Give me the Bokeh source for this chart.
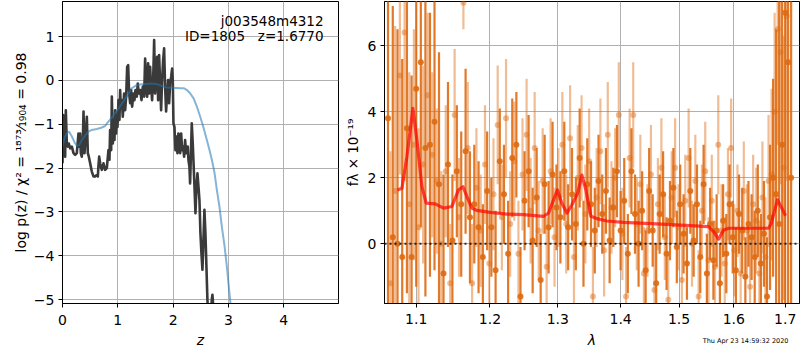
import numpy as np
from bokeh.plotting import figure
from bokeh.models import Range1d, FixedTicker, CustomJSTickFormatter, Label, Span, ColumnDataSource, Title
from bokeh.layouts import row
from bokeh.embed import file_html
from bokeh.resources import INLINE

FONT = "DejaVu Sans"

# ---------------- left panel: log p(z) ----------------
z_pz = [0.000, 0.012, 0.024, 0.036, 0.048, 0.060, 0.078, 0.096, 0.114, 0.139, 0.169, 0.199,
        0.229, 0.259, 0.289, 0.301, 0.319, 0.331, 0.349, 0.367, 0.380, 0.398, 0.422, 0.440,
        0.458, 0.476, 0.500, 0.530, 0.560, 0.590, 0.620, 0.639, 0.651, 0.663, 0.681, 0.699,
        0.711, 0.741, 0.771, 0.801, 0.831, 0.849, 0.861, 0.880, 0.892, 0.910, 0.922, 0.940,
        0.952, 0.970, 0.982, 0.994, 1.012, 1.030, 1.042, 1.054, 1.072, 1.090, 1.114, 1.133,
        1.151, 1.169, 1.187, 1.205, 1.223, 1.241, 1.259, 1.283, 1.301, 1.319, 1.343, 1.361,
        1.380, 1.404, 1.428, 1.452, 1.476, 1.494, 1.512, 1.530, 1.548, 1.566, 1.584, 1.602,
        1.620, 1.639, 1.657, 1.675, 1.693, 1.711, 1.729, 1.747, 1.765, 1.783, 1.801, 1.819,
        1.837, 1.855, 1.873, 1.892, 1.910, 1.928, 1.946, 1.964, 1.982, 1.994, 2.006, 2.024,
        2.042, 2.060, 2.078, 2.096, 2.114, 2.127, 2.145, 2.163, 2.181, 2.199, 2.217, 2.235,
        2.253, 2.265, 2.277, 2.295, 2.307, 2.319, 2.337, 2.355, 2.367, 2.386, 2.404, 2.422,
        2.440, 2.458, 2.476, 2.494, 2.512, 2.530, 2.548, 2.566, 2.584, 2.602, 2.620, 2.639,
        2.669, 2.699, 2.711, 2.729, 2.759]
logp_pz = [-1.89, -0.79, -1.66, -0.90, -1.74, -0.68, -1.44, -1.51, -1.44, -1.55, -1.51, -1.66,
           -1.70, -1.66, -1.21, -1.51, -1.21, -1.66, -1.74, -1.44, -0.71, -1.66, -1.21, -0.83,
           -1.66, -1.74, -1.89, -2.08, -2.19, -2.19, -2.16, -2.19, -1.93, -1.74, -1.89, -2.00,
           -2.04, -1.89, -2.04, -2.00, -1.59, -1.81, -1.13, -1.59, -0.37, -1.44, -1.06, -1.36,
           -0.68, -1.21, -0.83, -1.06, -0.45, -0.90, -0.22, -0.60, -0.45, -0.83, -0.30, -0.68,
           -0.37, 0.31, 0.35, -0.30, -0.52, -0.22, -0.60, -0.30, -0.45, -0.22, -0.37, -0.07,
           -0.30, -0.22, -0.45, -0.14, -0.37, 0.50, -0.14, -0.37, 0.39, -0.30, 0.31, -0.14,
           -0.45, 0.01, 0.92, -0.30, 0.16, 0.54, -0.45, 0.58, -0.07, -0.68, 0.01, 0.46,
           0.73, -0.14, -0.71, -0.30, 0.01, -0.52, -0.07, 0.08, 0.27, 0.01, -0.98, -1.06,
           -1.59, -1.28, -1.66, -1.21, -1.51, -1.66, -1.21, -1.59, -1.51, -1.74, -1.36, -1.66,
           -1.59, -1.51, -1.81, -1.97, -2.35, -1.81, -0.98, -1.44, -1.81, -2.42, -3.03, -2.42,
           -2.12, -2.42, -2.73, -3.49, -3.94, -4.32, -3.64, -2.95, -3.49, -4.24, -5.00, -5.46,
           -5.61, -5.00, -4.89, -5.23, -5.69]

z_prior = [0.00, 0.04, 0.08, 0.12, 0.17, 0.22, 0.26, 0.30, 0.35, 0.41, 0.47, 0.53, 0.62,
           0.70, 0.77, 0.83, 0.89, 0.95, 1.02, 1.10, 1.18, 1.25, 1.34, 1.43, 1.52, 1.61,
           1.70, 1.80, 1.89, 2.00, 2.13, 2.20, 2.25, 2.31, 2.37, 2.43, 2.49, 2.55, 2.61,
           2.66, 2.70, 2.75, 2.79, 2.84, 2.88, 2.93, 2.97, 3.03, 3.08, 3.15]
logp_prior = [-1.51, -1.30, -1.20, -1.17, -1.28, -1.42, -1.49, -1.48, -1.36, -1.26, -1.17,
              -1.13, -1.11, -1.08, -1.04, -0.94, -0.85, -0.75, -0.63, -0.48, -0.33, -0.18,
              -0.11, -0.09, -0.08, -0.07, -0.08, -0.13, -0.16, -0.17, -0.18, -0.18, -0.22,
              -0.30, -0.41, -0.60, -0.83, -1.08, -1.36, -1.60, -1.81, -2.12, -2.49, -2.90,
              -3.33, -3.78, -4.23, -5.00, -5.60, -6.50]

left_xticks = [0, 1, 2, 3, 4]
left_yticks = [-5, -4, -3, -2, -1, 0, 1]
target_name = "j003548m4312"
target_info = "ID=1805\u00a0\u00a0\u00a0z=1.6770"

# ---------------- right panel: spectrum ----------------
wave_a = [1.064, 1.070, 1.076, 1.082, 1.088, 1.094, 1.100, 1.106, 1.112, 1.118, 1.124, 1.130,
          1.136, 1.142, 1.148, 1.154, 1.160, 1.166, 1.172, 1.178, 1.184, 1.190, 1.196, 1.202,
          1.208, 1.214, 1.220, 1.226, 1.232, 1.238, 1.244, 1.250, 1.256, 1.262, 1.268, 1.274,
          1.280, 1.286, 1.292, 1.298, 1.304, 1.310, 1.316, 1.322, 1.328, 1.334, 1.340, 1.346,
          1.352, 1.358, 1.364, 1.370, 1.376, 1.382, 1.388, 1.394, 1.400, 1.406, 1.412, 1.418,
          1.424, 1.430, 1.436, 1.442, 1.448, 1.454, 1.460, 1.466, 1.472, 1.478, 1.484, 1.490,
          1.496, 1.502, 1.508, 1.514, 1.520, 1.526, 1.532, 1.538, 1.544, 1.550, 1.556, 1.562,
          1.568, 1.574, 1.580, 1.586, 1.592, 1.598, 1.604, 1.610, 1.616, 1.622, 1.628, 1.634,
          1.640, 1.646, 1.652, 1.658, 1.664, 1.670, 1.676, 1.682, 1.688, 1.694, 1.700, 1.706,
          1.712]
flux_a = [3.8, 0.2, 0.0, -0.4, 3.5, -0.4, 4.7, 5.5, 2.9, 3.0, 3.7, 1.8,
          -0.9, 2.4, 0.1, 2.2, 1.2, 2.8, 0.8, 1.2, 0.5, -0.4, 1.6, 0.5,
          -0.8, 2.5, 1.5, -0.3, 2.6, 3.0, -1.6, 1.3, 2.2, 0.1, 1.4, -1.1,
          1.8, 0.5, 2.1, 1.1, 0.8, 2.2, 0.5, 1.5, 0.6, 2.6, 0.0, 1.8,
          1.2, 0.4, 1.9, 0.9, 1.6, 0.1, 1.1, 2.2, 0.4, 1.3, -0.3, 2.2,
          0.9, 0.0, 1.0, -0.8, 1.6, 0.4, -1.2, 0.9, 1.5, -0.3, 0.7, 1.7,
          -0.1, 1.2, 0.3, -0.6, 1.6, 0.1, 1.2, -0.4, 1.8, -0.9, 0.6, -0.5,
          0.4, -1.2, 0.7, -0.3, 1.2, 0.2, -0.8, 0.9, 0.4, -1.0, 0.6, 0.2,
          -0.4, 1.0, -0.6, 0.3, -1.6, 0.8, 2.0, 1.5, 0.6, 3.0, 7.0, 5.5,
          2.0]
err_a = [8.0, 7.0, 6.5, 6.0, 5.0, 5.5, 6.0, 5.0, 4.5, 4.0, 4.5, 4.0,
         3.0, 2.5, 2.0, 2.0, 2.2, 2.5, 2.0, 1.8, 2.0, 1.6, 1.8, 1.5,
         1.8, 1.6, 1.5, 1.6, 1.8, 1.6, 1.5, 1.5, 1.7, 1.6, 1.5, 1.4,
         1.5, 1.4, 1.6, 1.3, 1.4, 1.5, 1.3, 1.4, 1.4, 1.5, 1.3, 1.4,
         1.3, 1.3, 1.4, 1.2, 1.3, 1.3, 1.2, 1.4, 1.2, 1.3, 1.2, 1.3,
         1.2, 1.3, 1.2, 1.2, 1.3, 1.1, 1.2, 1.2, 1.3, 1.1, 1.2, 1.2,
         1.1, 1.2, 1.2, 1.1, 1.3, 1.1, 1.2, 1.1, 1.2, 1.2, 1.1, 1.2,
         1.1, 1.2, 1.1, 1.2, 1.2, 1.1, 1.3, 1.2, 1.3, 1.2, 1.3, 1.3,
         1.4, 1.4, 1.5, 1.6, 1.8, 2.2, 3.0, 5.0, 7.0, 8.0, 9.0, 9.0,
         9.0]

wave_b = [1.067, 1.073, 1.079, 1.085, 1.091, 1.097, 1.103, 1.109, 1.115, 1.121, 1.127, 1.133,
          1.139, 1.145, 1.151, 1.157, 1.163, 1.169, 1.175, 1.181, 1.187, 1.193, 1.199, 1.205,
          1.211, 1.217, 1.223, 1.229, 1.235, 1.241, 1.247, 1.253, 1.259, 1.265, 1.271, 1.277,
          1.283, 1.289, 1.295, 1.301, 1.307, 1.313, 1.319, 1.325, 1.331, 1.337, 1.343, 1.349,
          1.355, 1.361, 1.367, 1.373, 1.379, 1.385, 1.391, 1.397, 1.403, 1.409, 1.415, 1.421,
          1.427, 1.433, 1.439, 1.445, 1.451, 1.457, 1.463, 1.469, 1.475, 1.481, 1.487, 1.493,
          1.499, 1.505, 1.511, 1.517, 1.523, 1.529, 1.535, 1.541, 1.547, 1.553, 1.559, 1.565,
          1.571, 1.577, 1.583, 1.589, 1.595, 1.601, 1.607, 1.613, 1.619, 1.625, 1.631, 1.637,
          1.643, 1.649, 1.655, 1.661, 1.667, 1.673, 1.679, 1.685, 1.691, 1.697, 1.703]
flux_b = [-1.2, 1.6, 5.1, 6.4, 1.2, 3.0, 0.5, 2.4, 4.5, 2.7, 1.9, 0.0,
          2.2, -1.2, 3.9, 0.8, 7.3, 2.9, -1.2, 1.7, 0.4, 2.4, -0.6, 1.5,
          3.6, 0.8, 3.8, 0.6, 2.5, -0.3, 2.1, 3.3, 1.0, 2.9, 0.4, 1.9,
          -0.7, 2.2, 0.2, 1.4, 3.0, 0.6, 3.2, -0.4, 2.0, 2.9, 0.9, 2.5,
          -1.6, 1.4, 2.8, -0.2, 3.3, 1.1, 2.0, 3.9, 0.3, -1.6, 2.6, 3.9,
          0.6, 1.8, -0.9, 0.4, 2.1, -1.4, 1.2, 2.3, 0.2, -1.7, 1.4, 2.3,
          0.5, -1.1, 1.3, 2.6, 0.0, 1.9, -1.6, 1.0, 2.2, -0.5, 1.3, -0.7,
          3.0, 0.4, -0.6, 1.5, 2.9, -0.2, 1.0, -0.9, 1.6, 0.4, -1.3, 1.2,
          0.7, -0.9, 1.4, -0.4, 1.9, 2.1, 4.0, 6.5, 5.8, 2.3, 6.9]
err_b = [4.0, 5.0, 3.0, 4.5, 4.0, 3.5, 3.0, 3.0, 2.5, 2.5, 2.2, 2.2,
         2.0, 1.8, 2.0, 1.8, 0.8, 2.0, 1.8, 1.8, 1.7, 1.8, 1.6, 1.7,
         1.8, 1.6, 1.8, 1.6, 1.8, 1.6, 1.7, 1.7, 1.6, 1.7, 1.5, 1.6,
         1.5, 1.6, 1.5, 1.5, 1.6, 1.5, 1.6, 1.5, 1.6, 1.6, 1.5, 1.6,
         1.5, 1.5, 1.6, 1.4, 1.6, 1.4, 1.5, 1.6, 1.4, 1.5, 1.5, 1.6,
         1.4, 1.5, 1.4, 1.4, 1.5, 1.4, 1.4, 1.5, 1.3, 1.4, 1.4, 1.5,
         1.3, 1.4, 1.4, 1.5, 1.3, 1.4, 1.4, 1.4, 1.5, 1.3, 1.4, 1.4,
         1.5, 1.4, 1.4, 1.4, 1.5, 1.4, 1.4, 1.4, 1.5, 1.4, 1.5, 1.5,
         1.6, 1.6, 1.7, 1.8, 2.0, 2.6, 3.0, 3.5, 4.0, 4.0, 5.0]

wave_model = [1.076, 1.0816, 1.088, 1.0957, 1.1009, 1.1074, 1.113, 1.1249, 1.136, 1.1473,
              1.1563, 1.1623, 1.1678, 1.1747, 1.1816, 1.2003, 1.2242, 1.2487, 1.2783, 1.2858,
              1.2935, 1.2995, 1.3063, 1.314, 1.3218, 1.3307, 1.3375, 1.3438, 1.3518, 1.3600,
              1.3774, 1.4048, 1.4612, 1.5198, 1.5530, 1.5624, 1.5715, 1.5811, 1.5905, 1.641,
              1.667, 1.6724, 1.6846, 1.6932, 1.7008]
flux_model = [1.63, 1.68, 2.64, 4.10, 3.14, 1.73, 1.23, 1.21, 1.08, 1.13,
              1.63, 1.73, 1.43, 1.08, 1.01, 0.95, 0.90, 0.88, 0.83, 0.93,
              1.33, 1.63, 1.23, 0.93, 1.18, 1.53, 2.08, 1.63, 0.83, 0.77,
              0.69, 0.65, 0.60, 0.55, 0.52, 0.37, 0.14, 0.42, 0.47, 0.47,
              0.47, 0.62, 1.33, 1.08, 0.85]

right_xticks = [1.1, 1.2, 1.3, 1.4, 1.5, 1.6, 1.7]
right_yticks = [0, 2, 4, 6]
timestamp = "Thu Apr 23 14:59:32 2020"

ORANGE = "#de6a12"
GRID = "#b0b0b0"


def style(p, xticks, yticks, xfmt, yfmt):
    p.outline_line_color = "black"
    p.outline_line_width = 1
    p.outline_line_alpha = 1
    p.xaxis.ticker = FixedTicker(ticks=xticks, minor_ticks=[])
    p.yaxis.ticker = FixedTicker(ticks=yticks, minor_ticks=[])
    p.xaxis.formatter = xfmt
    p.yaxis.formatter = yfmt
    for ax in (p.xaxis[0], p.yaxis[0]):
        ax.major_label_text_font = FONT
        ax.major_label_text_font_size = "14px"
        ax.major_label_text_color = "black"
        ax.axis_label_text_font = FONT
        ax.axis_label_text_color = "black"
        ax.axis_label_text_font_style = "normal"
        ax.axis_line_color = "black"
        ax.major_tick_line_color = "black"
        ax.major_tick_out = 4
        ax.major_tick_in = 0
        ax.minor_tick_line_color = None
        ax.axis_label_standoff = 4
    p.xaxis.major_label_standoff = 7
    p.yaxis.major_label_standoff = 4
    p.xgrid.grid_line_color = GRID
    p.ygrid.grid_line_color = GRID
    p.xgrid.grid_line_width = 1
    p.ygrid.grid_line_width = 1


minus_fmt = CustomJSTickFormatter(code="return tick < 0 ? '\\u2212' + Math.abs(tick) : '' + tick;")

# ---- left figure ----
p1 = figure(width=340, height=350, x_range=Range1d(0, 4.99), y_range=Range1d(-5.09, 1.8),
            output_backend="svg", toolbar_location=None, title=None,
            min_border_left=62, min_border_right=2, min_border_top=1, min_border_bottom=46)
style(p1, left_xticks, left_yticks,
      CustomJSTickFormatter(code="return '' + tick;"), minus_fmt)
p1.xaxis.axis_label = "z"
p1.xaxis.axis_label_text_font_style = "italic"
p1.xaxis.axis_label_text_font_size = "14px"
p1.yaxis.axis_label = "log p(z) / \u03c7\u00b2 = \u00b9\u2078\u2077\u00b3\u2044\u2081\u2089\u2080\u2084 = 0.98"
p1.yaxis.axis_label_text_font_size = "14px"
p1.yaxis.axis_label_standoff = 2

p1.line(z_pz, logp_pz, line_color="#3a3a3a", line_width=2.6, line_join="round")
p1.line(z_prior, logp_prior, line_color="#1f77b4", line_alpha=0.55, line_width=2)

p1.add_layout(Label(x=261, y=291, x_units="screen", y_units="screen", text=target_name,
                    text_align="right", text_baseline="top", text_font=FONT,
                    text_font_size="13.5px", text_color="black"))
p1.add_layout(Label(x=261, y=276, x_units="screen", y_units="screen", text=target_info,
                    text_align="right", text_baseline="top", text_font=FONT,
                    text_font_size="13.5px", text_color="black"))

# ---- right figure ----
p2 = figure(width=460, height=350, x_axis_type="log",
            x_range=Range1d(1.0596, 1.729), y_range=Range1d(-1.81, 7.34),
            output_backend="svg", toolbar_location=None, title=None,
            min_border_left=44, min_border_right=1, min_border_top=1, min_border_bottom=46)
style(p2, right_xticks, right_yticks,
      CustomJSTickFormatter(code="return tick.toFixed(1);"), minus_fmt)
p2.xaxis.axis_label = "\u03bb"
p2.xaxis.axis_label_text_font_style = "italic"
p2.xaxis.axis_label_text_font_size = "14px"
p2.xaxis.axis_label_standoff = 5
p2.xaxis.major_label_standoff = 6
p2.yaxis.axis_label = "f\u03bb \u00d7 10\u207b\u00b9\u2079"
p2.yaxis.axis_label_text_font_size = "13.5px"

fa = np.array(flux_a)
ea = np.array(err_a)
fb = np.array(flux_b)
eb = np.array(err_b)
src_a = ColumnDataSource(dict(x=wave_a, y=flux_a, lo=fa - ea, hi=fa + ea))
src_b = ColumnDataSource(dict(x=wave_b, y=flux_b, lo=fb - eb, hi=fb + eb))

p2.segment(x0="x", y0="lo", x1="x", y1="hi", source=src_b, line_color=ORANGE,
           line_alpha=0.45, line_width=2.2)
p2.scatter(x="x", y="y", source=src_b, size=6, fill_color=ORANGE, fill_alpha=0.45,
           line_color=None)
p2.segment(x0="x", y0="lo", x1="x", y1="hi", source=src_a, line_color=ORANGE,
           line_alpha=0.9, line_width=2.2)
p2.scatter(x="x", y="y", source=src_a, size=6, fill_color=ORANGE, fill_alpha=0.9,
           line_color=None)

p2.line(wave_model, flux_model, line_color="red", line_alpha=0.7, line_width=3.2,
        line_join="round")
p2.add_layout(Span(location=0, dimension="width", line_color="black", line_alpha=0.8,
                   line_width=2, line_dash="2 3"))

p2.add_layout(Title(text=timestamp, align="right", vertical_align="top", text_font=FONT,
                    text_font_size="6.5px", text_font_style="normal", text_color="black",
                    standoff=-28, offset=11),
              "below")

layout = row(p1, p2)
open("out.html", "w").write(file_html(layout, INLINE))
